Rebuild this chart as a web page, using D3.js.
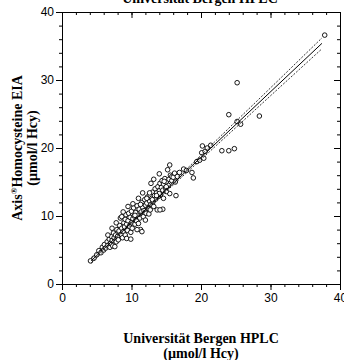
<!DOCTYPE html>
<html>
<head>
<meta charset="utf-8">
<script src="https://cdn.jsdelivr.net/npm/d3@7"></script>
<style>
  body { margin: 0; background: #fff; }
  svg { display: block; }
</style>
</head>
<body>
<div id="chart"></div>
<script>
// HPLC (x) vs EIA (y), µmol/l Hcy
const hplc = [4.1, 4.6, 5.0, 5.3, 5.6, 5.8, 6.0, 6.1, 6.3, 6.5, 6.6, 6.8, 6.9, 7.0, 7.1, 7.2, 7.3, 7.4, 7.5, 7.6,
    7.7, 7.8, 7.9, 8.0, 8.1, 8.2, 8.3, 8.4, 8.5, 8.6, 8.6, 8.7, 8.8, 8.9, 9.0, 9.1, 9.1, 9.2, 9.3, 9.3,
    9.4, 9.5, 9.6, 9.7, 9.8, 9.9, 10.0, 10.0, 10.1, 10.2, 10.3, 10.4, 10.5, 10.6, 10.7, 10.8, 10.9, 11.0, 11.1, 11.2,
    11.3, 11.4, 11.5, 11.5, 11.6, 11.7, 11.8, 11.9, 12.0, 12.1, 12.2, 12.3, 12.4, 12.5, 12.6, 12.7, 12.8, 12.9, 13.0, 13.1,
    13.2, 13.3, 13.4, 13.5, 13.6, 13.7, 13.8, 13.9, 14.0, 14.1, 14.2, 14.3, 14.4, 14.5, 14.5, 14.6, 14.8, 14.9, 15.0, 15.2,
    15.3, 15.4, 15.5, 15.5, 15.6, 15.8, 15.8, 16.0, 16.2, 16.4, 16.3, 12.2, 13.0, 14.0, 15.0, 10.5, 11.3, 12.6, 13.6, 14.7,
    9.5, 10.2, 8.8, 11.0, 12.0, 10.8, 9.9, 12.8, 13.2, 14.0, 14.6, 15.0, 16.6, 16.9, 7.2, 6.6, 7.8, 12.7, 14.1, 11.6,
    17.5, 17.9, 18.7, 18.9, 19.4, 19.8, 20.4, 20.1, 20.6, 20.2, 20.9, 21.4, 23.0, 24.0, 24.8, 24.0, 25.2, 25.7, 25.2, 28.4,
    37.8];
const eia = [3.4, 3.8, 4.3, 4.9, 4.6, 5.4, 5.0, 5.8, 5.3, 6.2, 5.7, 6.6, 5.4, 6.0, 7.0, 6.4, 5.6, 7.5, 6.8, 5.5,
    7.2, 6.2, 8.0, 7.0, 6.5, 7.8, 8.6, 9.7, 7.3, 9.9, 8.2, 6.8, 7.7, 9.0, 8.4, 7.2, 9.5, 10.2, 6.7, 8.8,
    7.9, 9.3, 10.4, 8.5, 9.8, 7.6, 9.0, 10.7, 8.2, 9.6, 11.2, 10.0, 8.8, 10.5, 9.3, 11.5, 10.1, 8.9, 11.0, 9.7,
    8.0, 10.6, 7.7, 12.0, 11.3, 9.9, 10.8, 12.4, 11.6, 10.4, 11.9, 12.8, 11.1, 10.3, 12.2, 13.0, 11.7, 12.6, 13.5, 12.1,
    11.4, 13.0, 14.0, 12.5, 13.4, 10.9, 14.3, 12.9, 13.7, 14.8, 13.2, 14.2, 15.2, 11.0, 13.8, 14.7, 15.5, 14.1, 15.0, 16.8,
    14.5, 15.4, 17.5, 13.3, 16.0, 15.2, 15.8, 15.7, 16.3, 13.0, 15.0, 12.6, 12.4, 13.3, 14.3, 10.1, 11.7, 13.4, 13.0, 15.1,
    11.4, 11.8, 10.6, 12.6, 9.4, 8.0, 6.6, 14.8, 15.4, 16.2, 12.6, 13.6, 15.8, 16.4, 8.2, 7.2, 9.0, 10.9, 10.9, 13.4,
    16.9, 16.7, 16.4, 15.6, 18.0, 18.2, 18.5, 19.3, 19.5, 20.3, 20.0, 20.4, 19.6, 19.6, 19.9, 24.9, 23.9, 23.5, 29.6, 24.7,
    36.6];

// regression line and its confidence band
const fitSlope = 0.963;
const fitIntercept = -0.63;
const bandX = [4.2, 8, 12, 16, 20, 25, 30, 37.4];
const bandHalf = [0.35, 0.22, 0.18, 0.22, 0.32, 0.45, 0.58, 0.8];

const tickValues = [0, 10, 20, 30, 40];
const minorTicks = d3.range(0, 41, 2);
const xTitle = ["Universität Bergen HPLC", "(µmol/l Hcy)"];

const width = 344;
const height = 360;
const margin = { top: 12, right: 4, bottom: 76, left: 62 };

const svg = d3.select("#chart")
    .append("svg")
    .attr("width", width)
    .attr("height", height);

const x = d3.scaleLinear().domain([0, 40]).range([margin.left, width - margin.right]);
const y = d3.scaleLinear().domain([0, 40]).range([height - margin.bottom, margin.top]);

const tickFont = "12px 'Liberation Sans', Arial, sans-serif";
const titleFont = "bold 14px 'Liberation Serif', 'Times New Roman', serif";

function styleAxis(g) {
    g.selectAll("path").attr("stroke", "#000").attr("stroke-width", 1);
    g.selectAll("line").attr("stroke", "#000");
    g.selectAll("text").style("font", tickFont).attr("fill", "#000");
}

// minor ticks
svg.append("g").attr("transform", `translate(0,${y(0)})`)
    .call(d3.axisBottom(x).tickValues(minorTicks).tickSize(3).tickFormat(""))
    .call(styleAxis);
svg.append("g").attr("transform", `translate(0,${y(40)})`)
    .call(d3.axisBottom(x).tickValues(minorTicks).tickSize(3).tickFormat("").tickSizeOuter(0))
    .call(styleAxis);
svg.append("g").attr("transform", `translate(${x(0)},0)`)
    .call(d3.axisLeft(y).tickValues(minorTicks).tickSize(3).tickFormat(""))
    .call(styleAxis);
svg.append("g").attr("transform", `translate(${x(40)},0)`)
    .call(d3.axisLeft(y).tickValues(minorTicks).tickSize(3).tickFormat("").tickSizeOuter(0))
    .call(styleAxis);

// major ticks + labels
svg.append("g").attr("transform", `translate(0,${y(0)})`)
    .call(d3.axisBottom(x).tickValues(tickValues).tickSize(6).tickSizeOuter(0).tickPadding(3))
    .call(styleAxis);
svg.append("g").attr("transform", `translate(0,${y(40)})`)
    .call(d3.axisBottom(x).tickValues(tickValues).tickSize(6).tickSizeOuter(0).tickFormat(""))
    .call(styleAxis);
svg.append("g").attr("transform", `translate(${x(0)},0)`)
    .call(d3.axisLeft(y).tickValues(tickValues).tickSize(6).tickSizeOuter(0).tickPadding(2))
    .call(styleAxis);
svg.append("g").attr("transform", `translate(${x(40)},0)`)
    .call(d3.axisLeft(y).tickValues(tickValues).tickSize(6).tickSizeOuter(0).tickFormat(""))
    .call(styleAxis);

// points
const points = hplc.map((v, i) => ({ x: v, y: eia[i] }));
svg.append("g")
    .selectAll("circle")
    .data(points)
    .enter()
    .append("circle")
    .attr("cx", d => x(d.x))
    .attr("cy", d => y(d.y))
    .attr("r", 2.3)
    .attr("fill", "#fff")
    .attr("stroke", "#000")
    .attr("stroke-width", 0.9);

// regression + confidence band
const band = bandX.map((v, i) => ({ x: v, fit: fitSlope * v + fitIntercept, half: bandHalf[i] }));
const line = d3.line().curve(d3.curveMonotoneX);

svg.append("path")
    .attr("d", line([band[0], band[band.length - 1]].map(d => [x(d.x), y(d.fit)])))
    .attr("fill", "none")
    .attr("stroke", "#000")
    .attr("stroke-width", 1);

[1, -1].forEach(sign => {
    svg.append("path")
        .attr("d", line(band.map(d => [x(d.x), y(d.fit + sign * d.half)])))
        .attr("fill", "none")
        .attr("stroke", "#000")
        .attr("stroke-width", 0.8)
        .attr("stroke-dasharray", "2,1.5");
});

// titles
svg.append("text")
    .attr("x", 200)
    .attr("y", 3)
    .attr("text-anchor", "middle")
    .style("font", titleFont)
    .text(xTitle[0]);

const xt = svg.append("text")
    .attr("x", 201)
    .attr("y", 343)
    .attr("text-anchor", "middle")
    .style("font", titleFont);
xt.append("tspan").attr("x", 201).text(xTitle[0]);
xt.append("tspan").attr("x", 201).attr("dy", 15).text(xTitle[1]);

const yt = svg.append("text")
    .attr("transform", "translate(22,148) rotate(-90)")
    .attr("text-anchor", "middle")
    .style("font", titleFont);
const line1 = yt.append("tspan").attr("x", 0);
line1.append("tspan").text("Axis");
line1.append("tspan").attr("dy", -5).style("font-size", "9px").text("®");
line1.append("tspan").attr("dy", 5).text("Homocysteine EIA");
yt.append("tspan").attr("x", 0).attr("dy", 15).text(xTitle[1]);
</script>
</body>
</html>
